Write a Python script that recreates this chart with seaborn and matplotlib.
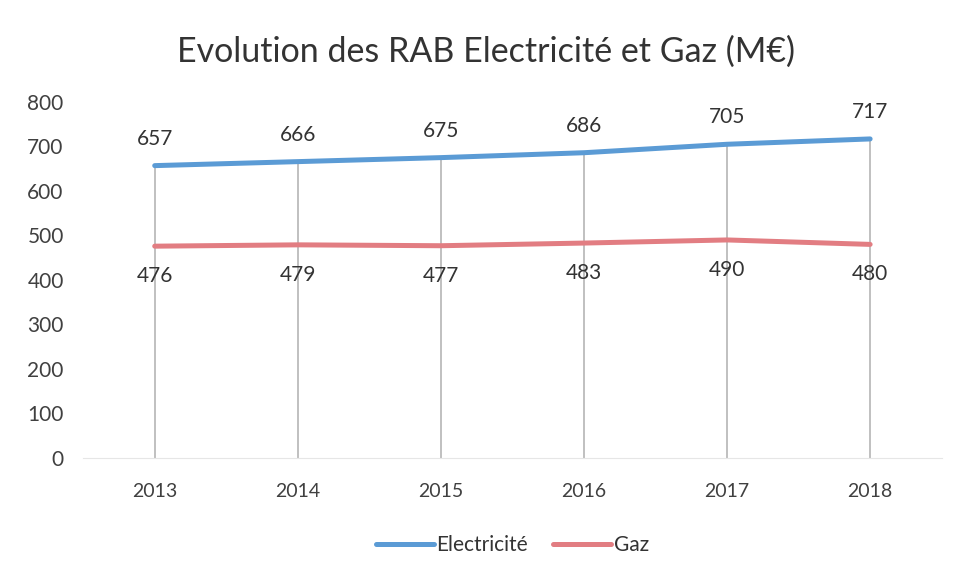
import numpy as np
import pandas as pd
import matplotlib.pyplot as plt
import seaborn as sns

years = ["2013", "2014", "2015", "2016", "2017", "2018"]
electricite = [657, 666, 675, 686, 705, 717]
gaz = [476, 479, 477, 483, 490, 480]
series_names = ["Electricité", "Gaz"]
colors = ["#5B9BD5", "#E27D82"]

df = pd.DataFrame(
    {
        "year": years * 2,
        "value": electricite + gaz,
        "serie": [series_names[0]] * len(years) + [series_names[1]] * len(years),
    }
)

sns.set_style("white")
plt.rcParams["font.family"] = ["Lato", "DejaVu Sans"]

fig = plt.figure(figsize=(9.56, 5.73), dpi=100)
ax = fig.add_axes([0.087, 0.2007, 0.898, 0.6213])

x = np.arange(len(years))

# drop lines from the axis up to the top series
ax.vlines(x, 0, electricite, color="#B5B5B5", linewidth=1.2, zorder=1)

sns.lineplot(
    data=df,
    x="year",
    y="value",
    hue="serie",
    palette=colors,
    linewidth=3.6,
    sort=False,
    ax=ax,
    zorder=3,
)

for i, v in enumerate(electricite):
    ax.text(i, v + 38, str(v), ha="center", va="bottom", fontsize=15, color="#333333")
for i, v in enumerate(gaz):
    ax.text(i, v - 45, str(v), ha="center", va="top", fontsize=15, color="#333333")

ax.set_xlim(-0.5, len(years) - 0.5)
ax.set_ylim(0, 800)
ax.set_yticks(range(0, 801, 100))
ax.set_xlabel("")
ax.set_ylabel("")
ax.tick_params(axis="x", labelsize=14, colors="#404040", length=0, pad=18)
ax.tick_params(axis="y", labelsize=15, colors="#404040", length=0, pad=14)
for s in ["top", "right", "left"]:
    ax.spines[s].set_visible(False)
ax.spines["bottom"].set_color("#E6E6E6")

fig.suptitle(
    "Evolution des RAB Electricité et Gaz (M€)",
    fontsize=24.5,
    color="#333333",
    x=0.508,
    y=0.937,
)

ax.legend(
    loc="upper center",
    bbox_to_anchor=(0.5, -0.165),
    ncol=2,
    frameon=False,
    fontsize=15,
    handlelength=2.8,
    handletextpad=0.1,
    columnspacing=1.2,
    labelcolor="#333333",
)

fig.savefig("out.png", dpi=100)
